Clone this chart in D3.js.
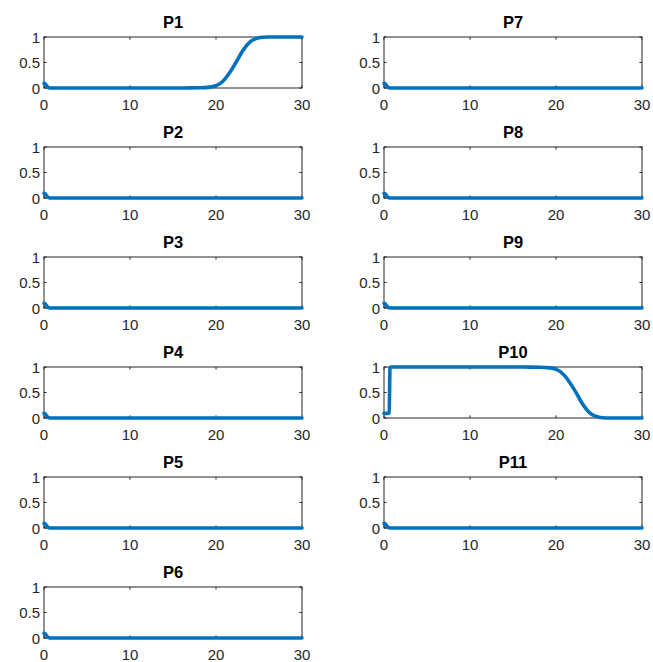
<!DOCTYPE html>
<html>
<head>
<meta charset="utf-8">
<script src="https://cdn.jsdelivr.net/npm/d3@7"></script>
<style>
  html, body { margin: 0; padding: 0; background: #fff; }
  svg { display: block; }
  text { font-family: Arial, "Liberation Sans", Helvetica, sans-serif; }
</style>
</head>
<body>
<svg id="chart" width="653" height="662"></svg>
<script>
// Time samples shared by every series
const time = [0, 0.1, 0.2, 0.3, 0.4, 0.5, 0.6, 0.7, 0.8, 1, 2, 5, 10, 15, 17, 18, 19, 19.5,
  20, 20.5, 21, 21.5, 22, 22.5, 23, 23.5, 24, 24.5, 25, 25.5, 26, 27, 28, 29, 30];

// Populations that die out right after the start
const decay = [0.091, 0.086, 0.072, 0.048, 0.024, 0.01, 0.004, 0.001, 0, 0, 0, 0, 0, 0, 0, 0, 0, 0,
  0, 0, 0, 0, 0, 0, 0, 0, 0, 0, 0, 0, 0, 0, 0, 0, 0];

// P1: dies out early, then takes over near the end
const p1 = [0.091, 0.086, 0.072, 0.048, 0.024, 0.01, 0.004, 0.001, 0, 0, 0, 0, 0, 0, 0.002, 0.005, 0.012, 0.022,
  0.045, 0.09, 0.17, 0.28, 0.41, 0.55, 0.7, 0.82, 0.91, 0.96, 0.985, 0.995, 1, 1, 1, 1, 1];

// P10: jumps to dominance, then collapses
const p10 = [0.091, 0.09, 0.09, 0.09, 0.09, 0.09, 0.1, 0.98, 1, 1, 1, 1, 1, 1, 0.998, 0.995, 0.988, 0.978,
  0.955, 0.91, 0.83, 0.72, 0.59, 0.45, 0.3, 0.18, 0.09, 0.04, 0.015, 0.005, 0.001, 0, 0, 0, 0];

const names = ["P1", "P2", "P3", "P4", "P5", "P6", "P7", "P8", "P9", "P10", "P11"];
const series = [p1, decay, decay, decay, decay, decay, decay, decay, decay, p10, decay];

const xTicks = [0, 10, 20, 30];
const yTicks = [0, 0.5, 1];
const yTickLabels = ["0", "0.5", "1"];

// Panel grid geometry
const colX = [44, 384];
const panelW = 258, panelH = 51;
const top0 = 37, rowStep = 110;
const axisColor = "#262626";
const lineColor = "#0072BD";
const tickLen = 2.6;

const svg = d3.select("#chart");

names.forEach((name, i) => {
  const col = i < 6 ? 0 : 1;
  const row = i < 6 ? i : i - 6;
  const left = colX[col];
  const top = top0 + row * rowStep;

  const x = d3.scaleLinear().domain([0, 30]).range([left, left + panelW]);
  const y = d3.scaleLinear().domain([0, 1]).range([top + panelH, top]);

  const g = svg.append("g");

  // Box
  g.append("rect")
    .attr("x", x(0)).attr("y", y(1))
    .attr("width", x(30) - x(0)).attr("height", y(0) - y(1))
    .attr("fill", "none").attr("stroke", axisColor).attr("stroke-width", 1);

  // Inward ticks on all four sides
  xTicks.forEach(t => {
    g.append("line").attr("x1", x(t)).attr("x2", x(t))
      .attr("y1", y(0)).attr("y2", y(0) - tickLen).attr("stroke", axisColor);
    g.append("line").attr("x1", x(t)).attr("x2", x(t))
      .attr("y1", y(1)).attr("y2", y(1) + tickLen).attr("stroke", axisColor);
    g.append("text").attr("x", x(t)).attr("y", y(0) + 22)
      .attr("text-anchor", "middle").attr("font-size", 15).attr("fill", axisColor)
      .text(t);
  });
  yTicks.forEach((v, k) => {
    g.append("line").attr("x1", x(0)).attr("x2", x(0) + tickLen)
      .attr("y1", y(v)).attr("y2", y(v)).attr("stroke", axisColor);
    g.append("line").attr("x1", x(30)).attr("x2", x(30) - tickLen)
      .attr("y1", y(v)).attr("y2", y(v)).attr("stroke", axisColor);
    g.append("text").attr("x", x(0) - 4).attr("y", y(v) + 5.5)
      .attr("text-anchor", "end").attr("font-size", 15).attr("fill", axisColor)
      .text(yTickLabels[k]);
  });

  // Title
  g.append("text").attr("x", (x(0) + x(30)) / 2).attr("y", y(1) - 9)
    .attr("text-anchor", "middle").attr("font-size", 16.5).attr("font-weight", "bold")
    .attr("fill", "#000").text(name);

  // Data line
  const line = d3.line()
    .x((d, j) => x(time[j]))
    .y(d => y(d))
    .curve(d3.curveMonotoneX);

  g.append("path").datum(series[i])
    .attr("d", line)
    .attr("fill", "none").attr("stroke", lineColor).attr("stroke-width", 3.6)
    .attr("stroke-linejoin", "round").attr("stroke-linecap", "round");
});
</script>
</body>
</html>
